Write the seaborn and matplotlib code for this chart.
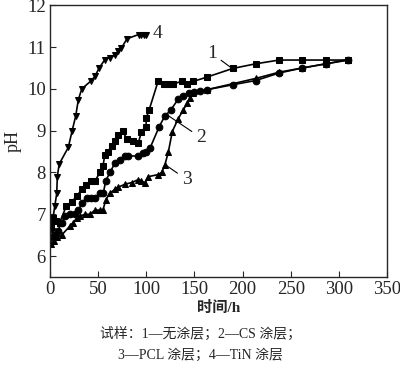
import matplotlib
matplotlib.use('Agg')
import matplotlib.pyplot as plt
import seaborn as sns
import pandas as pd

# 1 - uncoated (squares)
t1 = [1, 3, 6, 10, 17, 22.5, 27.7, 33, 37.6, 43, 46.7, 52, 55, 57, 60, 64, 67.5, 71, 75.5,
      79.6, 86.5, 91.7, 95, 99.7, 100, 103, 112.5, 118, 123, 128, 136.8, 142, 149, 162.7,
      190, 213.6, 238, 262, 286.6, 310]
ph1 = [6.7, 6.9, 6.85, 6.8, 7.2, 7.3, 7.43, 7.6, 7.7, 7.8, 7.8, 8.0, 8.15, 8.43, 8.5, 8.63,
       8.75, 8.9, 9.0, 8.8, 8.75, 8.7, 8.98, 9.1, 9.3, 9.5, 10.2, 10.12, 10.12, 10.12, 10.18,
       10.12, 10.18, 10.28, 10.49, 10.6, 10.69, 10.69, 10.69, 10.69]

# 2 - CS coating (circles)
t2 = [1, 5, 8, 12, 15.6, 20.8, 26, 29.4, 33, 38, 43, 46.7, 52, 55.4, 57.8, 62.3, 67.5,
      72.7, 78, 81, 91.7, 97, 100, 104, 113.5, 119, 125.6, 133, 138.4, 144.6, 149.5, 156,
      163, 190, 213.6, 238, 262, 286.6, 310]
ph2 = [6.45, 6.5, 6.6, 6.8, 6.95, 7.0, 7.0, 7.1, 7.26, 7.4, 7.4, 7.4, 7.51, 7.5, 7.8, 8.0,
       8.23, 8.3, 8.39, 8.4, 8.39, 8.47, 8.5, 8.59, 9.1, 9.34, 9.5, 9.75, 9.82, 9.91, 9.93,
       9.95, 9.98, 10.1, 10.2, 10.38, 10.5, 10.6, 10.69]

# 3 - PCL coating (triangles up)
t3 = [1, 4, 7, 12, 20.8, 24, 27.7, 31, 36, 41.5, 46.7, 52, 55, 58, 62, 67.5, 71, 78, 85,
      91.7, 95, 98.7, 102, 112.5, 116, 119.4, 123, 127, 133, 138.5, 142.6, 145, 149,
      162.7, 213.6, 238, 262, 286.6, 310]
ph3 = [6.3, 6.35, 6.45, 6.5, 6.72, 6.8, 6.9, 6.95, 7.0, 7.0, 7.1, 7.1, 7.1, 7.35, 7.5, 7.6,
       7.65, 7.72, 7.76, 7.83, 7.8, 7.75, 7.9, 7.95, 8.0, 8.19, 8.5, 8.98, 9.28, 9.5, 9.66,
       9.78, 9.9, 9.98, 10.25, 10.4, 10.5, 10.6, 10.7]

# 4 - TiN coating (triangles down)
t4 = [2, 3, 5, 7, 7.6, 9.5, 19, 23, 26.7, 29.4, 33, 43, 46.7, 51, 57, 62, 67.5, 71, 74,
      80, 92, 95, 98, 100]
ph4 = [6.6, 6.9, 7.2, 7.5, 7.9, 8.2, 8.6, 9.0, 9.35, 9.74, 10.0, 10.2, 10.3, 10.5, 10.7,
       10.75, 10.8, 10.9, 10.97, 11.2, 11.3, 11.3, 11.3, 11.3]

series = [(t1, ph1, 's'), (t2, ph2, 'o'), (t3, ph3, '^'), (t4, ph4, 'v')]

sns.set_style('ticks')
plt.rcParams['font.family'] = ['Liberation Serif', 'Noto Sans CJK SC']

fig = plt.figure(figsize=(4, 3.7), dpi=100)
ax = fig.add_axes([0.125, 0.2514, 0.8425, 0.7343])

for t, ph, m in series:
    df = pd.DataFrame({'t': t, 'ph': ph})
    sns.lineplot(data=df, x='t', y='ph', ax=ax, color='black', lw=1.2, marker=m,
                 markersize=4.8, markeredgecolor='black', sort=False, estimator=None)

ax.set_xlim(0, 350)
ax.set_ylim(5.5, 12)
ax.set_xticks(range(0, 351, 50))
ax.set_yticks(range(6, 13))
ax.tick_params(direction='in', labelsize=13.5, length=4, width=0.8, pad=3)
for s in ax.spines.values():
    s.set_linewidth(1.0)

ax.set_xlabel('时间/h', fontsize=11, fontweight='bold', labelpad=2)
ax.set_ylabel('pH', fontsize=13, labelpad=4)

# curve labels with leader lines
leader = dict(arrowstyle='-', color='black', lw=0.8, shrinkA=1, shrinkB=0)
ax.annotate('1', xy=(188.5, 10.5), xytext=(168, 10.85), fontsize=14,
            ha='center', va='center', arrowprops=leader)
ax.annotate('2', xy=(122.8, 9.36), xytext=(157, 8.83), fontsize=14,
            ha='center', va='center', arrowprops=leader)
ax.annotate('3', xy=(119.4, 8.19), xytext=(142, 7.83), fontsize=14,
            ha='center', va='center', arrowprops=leader)
ax.text(112, 11.32, '4', fontsize=14, ha='center', va='center')

fig.text(0.5, 0.097, '试样：1—无涂层；2—CS 涂层；', ha='center', va='center', fontsize=10)
fig.text(0.5, 0.04, '3—PCL 涂层；4—TiN 涂层', ha='center', va='center', fontsize=10)

fig.savefig('out.png', dpi=100)
